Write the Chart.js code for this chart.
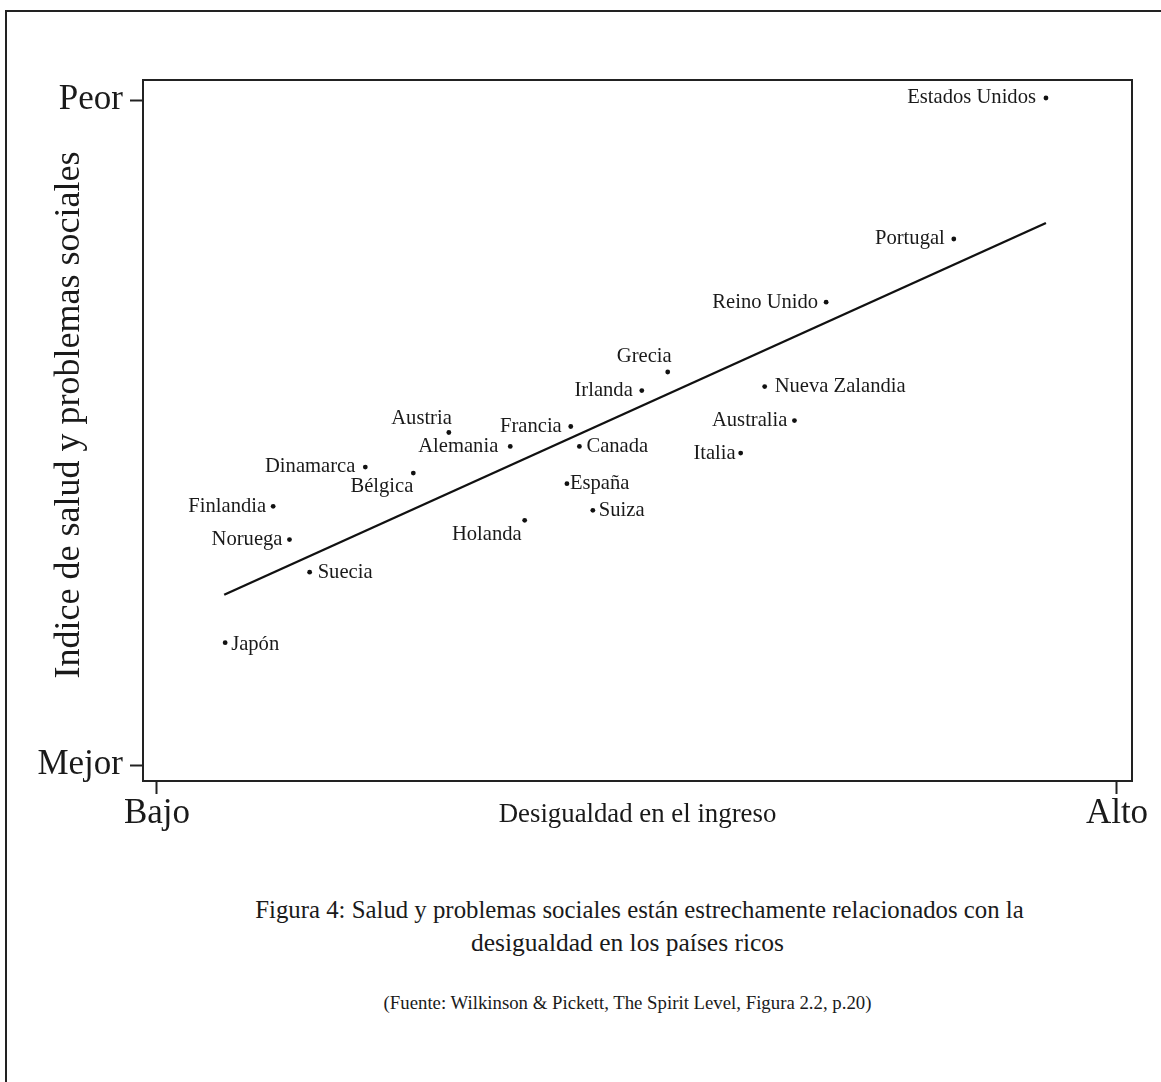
<!DOCTYPE html>
<html><head><meta charset="utf-8">
<script src="https://cdn.jsdelivr.net/npm/chart.js@4/dist/chart.umd.min.js"></script>
<style>
html,body{margin:0;padding:0;background:#fff;}
body{width:1161px;height:1082px;position:relative;overflow:hidden;font-family:"Liberation Serif","Times New Roman",serif;color:#1a1a1a;}
#frame{position:absolute;left:5px;top:10px;width:1200px;height:1100px;border-top:2px solid #222;border-left:2px solid #222;}
#wrap{position:absolute;left:0;top:0;width:1161px;height:860px;}
.cap{position:absolute;width:1161px;text-align:center;white-space:nowrap;}
</style></head>
<body>
<div id="frame"></div>
<div id="wrap"><canvas id="c" width="1161" height="860"></canvas></div>
<div class="cap" style="left:59px;top:894px;font-size:24.8px;line-height:32px;">Figura 4: Salud y problemas sociales están estrechamente relacionados con la</div>
<div class="cap" style="left:47px;top:927px;font-size:25.5px;line-height:32px;">desigualdad en los países ricos</div>
<div class="cap" style="left:47px;top:993px;font-size:18.8px;line-height:20px;">(Fuente: Wilkinson &amp; Pickett, The Spirit Level, Figura 2.2, p.20)</div>
<script>
const countries = ["Estados Unidos","Portugal","Reino Unido","Grecia","Irlanda","Nueva Zalandia","Francia","Alemania","Canada","Australia","Italia","España","Suiza","Holanda","Austria","Dinamarca","Bélgica","Finlandia","Noruega","Suecia","Japón"];
const inequality = [92.6, 83.0, 69.7, 53.2, 50.5, 63.3, 43.1, 36.8, 44.0, 66.4, 60.8, 42.7, 45.4, 38.3, 30.4, 21.7, 26.7, 12.1, 13.8, 15.9, 7.1];
const healthIndex = [100.3, 79.1, 69.6, 59.1, 56.3, 56.9, 50.9, 47.9, 47.9, 51.8, 46.9, 42.3, 38.3, 36.8, 50.0, 44.8, 43.9, 38.9, 33.9, 29.0, 18.4];
const trendX = [7.0, 92.6];
const trendY = [25.6, 81.5];
const xTickLabels = ["Bajo","Alto"];
const yTickLabels = ["Mejor","Peor"];
const xTickValues = [0, 100];
const yTickValues = [0, 100];
const xTitle = "Desigualdad en el ingreso";
const yTitle = "Indice de salud y problemas sociales";

// label placement relative to each dot: [textAlign, dx, dy]
const labelPlacement = [
  ["right",-10,0],["right",-9,0],["right",-8,0],["right",4,-15],["right",-9,0],
  ["left",10,0],["right",-9,0],["right",-12,0],["left",7,0],["right",-7,0],
  ["right",-5,0],["left",3,0],["left",6,0],["right",-3,14],["right",3,-14],
  ["right",-10,0],["right",0,14],["right",-7,0],["right",-7,0],["left",8,0],["left",6,2]
];

const SERIF = '"Liberation Serif","Times New Roman",serif';
const INK = '#1a1a1a';

const points = inequality.map((x,i)=>({x:x, y:healthIndex[i]}));
const trend = trendX.map((x,i)=>({x:x, y:trendY[i]}));

const boxPlugin = {
  id:'box',
  afterDraw(chart){
    const {ctx, chartArea:a} = chart;
    ctx.save();
    ctx.strokeStyle = '#222';
    ctx.lineWidth = 2;
    ctx.strokeRect(a.left, a.top, a.right-a.left, a.bottom-a.top);
    ctx.restore();
  }
};
const labelPlugin = {
  id:'ptlabels',
  afterDatasetsDraw(chart){
    const ctx = chart.ctx;
    const meta = chart.getDatasetMeta(1);
    ctx.save();
    ctx.font = '20.6px ' + SERIF;
    ctx.fillStyle = INK;
    ctx.textBaseline = 'middle';
    meta.data.forEach((el,i)=>{
      const p = labelPlacement[i];
      ctx.textAlign = p[0];
      ctx.fillText(countries[i], el.x + p[1], el.y + p[2]);
    });
    ctx.restore();
  }
};
const yTitlePlugin = {
  id:'ytitle',
  afterDraw(chart){
    const ctx = chart.ctx;
    ctx.save();
    ctx.translate(70, 415);
    ctx.rotate(-Math.PI/2);
    ctx.font = '36px ' + SERIF;
    ctx.fillStyle = INK;
    ctx.textAlign = 'center';
    ctx.textBaseline = 'middle';
    ctx.fillText(yTitle, 0, 0);
    ctx.restore();
  }
};

new Chart(document.getElementById('c'), {
  data:{
    datasets:[
      {type:'line', data:trend, borderColor:'#111', borderWidth:2.4, pointRadius:0, fill:false, tension:0},
      {type:'scatter', data:points, backgroundColor:'#111', borderWidth:0, pointRadius:2.4, pointHoverRadius:2.4}
    ]
  },
  options:{
    responsive:false,
    animation:false,
    devicePixelRatio:1,
    layout:{padding:{left:0, top:80, right:29, bottom:0}},
    plugins:{legend:{display:false}, tooltip:{enabled:false}},
    scales:{
      x:{
        type:'linear', position:'bottom',
        min:-1.458, max:101.5625,
        afterBuildTicks(s){ s.ticks = xTickValues.map(v=>({value:v})); },
        afterFit(s){ s.height = 79; },
        ticks:{autoSkip:false, maxRotation:0, padding:2, color:INK,
               font:{family:SERIF, size:35, lineHeight:1},
               callback:(v,i)=>xTickLabels[i]},
        grid:{drawOnChartArea:false, drawTicks:true, tickLength:13, tickWidth:2, tickColor:'#222'},
        border:{display:true, width:2, color:'#222'},
        title:{display:true, text:xTitle, color:INK, font:{family:SERIF, size:26.8, lineHeight:1}, padding:{top:0,bottom:32}}
      },
      y:{
        type:'linear', position:'left',
        min:-2.406, max:103.008,
        afterBuildTicks(s){ s.ticks = yTickValues.map(v=>({value:v})); },
        afterFit(s){ s.width = 143; },
        ticks:{autoSkip:false, padding:7, color:INK,
               font:{family:SERIF, size:35, lineHeight:1},
               callback:(v,i)=>yTickLabels[i]},
        grid:{drawOnChartArea:false, drawTicks:true, tickLength:13, tickWidth:2, tickColor:'#222'},
        border:{display:true, width:2, color:'#222'},
        title:{display:false}
      }
    }
  },
  plugins:[boxPlugin, labelPlugin, yTitlePlugin]
});
</script>
</body></html>
